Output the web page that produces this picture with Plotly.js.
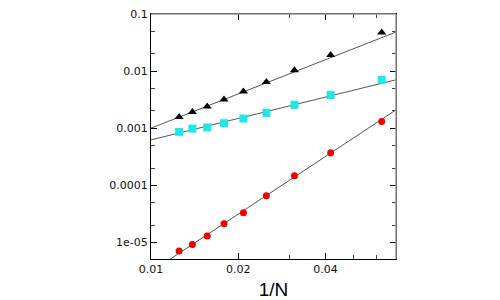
<!DOCTYPE html>
<html>
<head>
<meta charset="utf-8">
<script src="https://cdn.plot.ly/plotly-3.0.1.min.js"></script>
<style>html,body{margin:0;padding:0;background:#fff;}#chart{width:500px;height:300px;}</style>
</head>
<body>
<div id="chart"></div>
<script>
// Data: x = 1/N
const N = [80, 72, 64, 56, 48, 40, 32, 24, 16];
const xVals = N.map(n => 1 / n);
const triangleY = [1.56e-3, 1.91e-3, 2.39e-3, 3.18e-3, 4.39e-3, 6.41e-3, 0.0103, 0.0191, 0.0475];
const squareY = [8.6e-4, 9.8e-4, 1.03e-3, 1.22e-3, 1.47e-3, 1.85e-3, 2.55e-3, 3.79e-3, 7.03e-3];
const circleY = [7.0e-6, 9.1e-6, 1.29e-5, 2.12e-5, 3.30e-5, 6.5e-5, 1.46e-4, 3.69e-4, 1.31e-3];
// Fit lines (endpoints)
const fitTriX = [0.01, 0.07];
const fitTriY = [1.0e-3, 0.0483];
const fitSqX = [0.01, 0.07];
const fitSqY = [6.23e-4, 7.03e-3];
const fitCirX = [0.01166, 0.07];
const fitCirY = [5.09e-6, 2.09e-3];
const yTickVals = [0.1, 0.01, 0.001, 0.0001, 0.00001];
const yTickText = ['0.1', '0.01', '0.001', '0.0001', '1e-05'];
const xTickVals = [0.01, 0.02, 0.04];
const xTickText = ['0.01', '0.02', '0.04'];
const xMinor = [0.03, 0.05, 0.06];
const yMinor = [];
[1e-6, 1e-5, 1e-4, 1e-3, 1e-2].forEach(d => { yMinor.push(2 * d, 5 * d); });

const lineStyle = {color: '#555', width: 1};
const traces = [
  {x: fitTriX, y: fitTriY, mode: 'lines', line: lineStyle, hoverinfo: 'skip'},
  {x: fitSqX, y: fitSqY, mode: 'lines', line: lineStyle, hoverinfo: 'skip'},
  {x: fitCirX, y: fitCirY, mode: 'lines', line: lineStyle, hoverinfo: 'skip'},
  {x: xVals, y: triangleY, mode: 'markers', marker: {symbol: 'triangle-up', size: 8, color: '#000'}},
  {x: xVals, y: squareY, mode: 'markers', marker: {symbol: 'square', size: 8, color: '#1ee8e8'}},
  {x: xVals, y: circleY, mode: 'markers', marker: {symbol: 'circle', size: 7, color: '#f00000'}}
];

const axisFont = {family: 'DejaVu Sans', size: 11, color: '#111'};
const layout = {
  width: 500, height: 300,
  margin: {l: 151, r: 104, t: 14, b: 41},
  paper_bgcolor: '#fff', plot_bgcolor: '#fff',
  showlegend: false,
  xaxis: {
    type: 'log', range: [Math.log10(0.01), Math.log10(0.07)],
    tickmode: 'array', tickvals: xTickVals, ticktext: xTickText,
    ticks: 'inside', ticklen: 6, tickcolor: '#000', tickwidth: 1,
    minor: {tickmode: 'array', tickvals: xMinor, ticks: 'inside', ticklen: 4, tickcolor: '#444', showgrid: false},
    showline: true, linecolor: '#000', linewidth: 1, mirror: 'ticks',
    showgrid: false, zeroline: false,
    tickfont: axisFont,
    title: {text: '1/N', font: {family: 'Liberation Sans', size: 19, color: '#000'}, standoff: 9}
  },
  yaxis: {
    type: 'log', range: [Math.log10(5.09e-6), -1],
    tickmode: 'array', tickvals: yTickVals, ticktext: yTickText,
    ticks: 'inside', ticklen: 6, tickcolor: '#000', tickwidth: 1,
    minor: {tickmode: 'array', tickvals: yMinor, ticks: 'inside', ticklen: 4, tickcolor: '#444', showgrid: false},
    showline: true, linecolor: '#000', linewidth: 1, mirror: 'ticks',
    showgrid: false, zeroline: false,
    tickfont: axisFont
  },
  shapes: [
    {type: 'line', xref: 'paper', yref: 'paper', x0: 0, x1: 1, y0: 1, y1: 1, line: {color: '#999', width: 1.5}},
    {type: 'line', xref: 'paper', yref: 'paper', x0: 1, x1: 1, y0: 0, y1: 1, line: {color: '#999', width: 1.5}}
  ]
};
Plotly.newPlot('chart', traces, layout, {staticPlot: true, displayModeBar: false});
</script>
</body>
</html>
